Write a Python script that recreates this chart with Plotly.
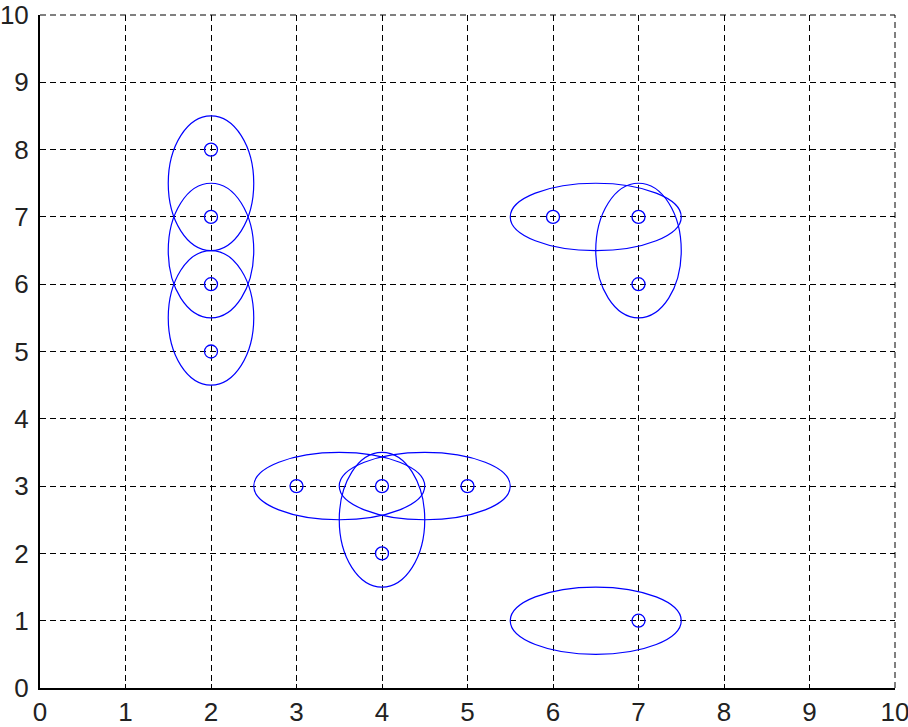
import plotly.graph_objects as go

# data points
point_x = [2, 2, 2, 2, 6, 7, 7, 3, 4, 5, 4, 7]
point_y = [8, 7, 6, 5, 7, 7, 6, 3, 3, 3, 2, 1]

# ellipses: centre and semi-axes
ell_cx = [2, 2, 2, 6.5, 7, 3.5, 4.5, 4, 6.5]
ell_cy = [7.5, 6.5, 5.5, 7, 6.5, 3, 3, 2.5, 1]
ell_rx = [0.5, 0.5, 0.5, 1, 0.5, 1, 1, 0.5, 1]
ell_ry = [1, 1, 1, 0.5, 1, 0.5, 0.5, 1, 0.5]

ticks = list(range(0, 11))

BLUE = '#0000ff'
DASH = '6px,4px'

fig = go.Figure()
fig.add_trace(go.Scatter(
    x=point_x, y=point_y, mode='markers',
    marker=dict(symbol='circle-open', size=13, color=BLUE, line=dict(width=1.3)),
    showlegend=False, hoverinfo='skip'))

for cx, cy, rx, ry in zip(ell_cx, ell_cy, ell_rx, ell_ry):
    fig.add_shape(type='circle', xref='x', yref='y',
                  x0=cx - rx, x1=cx + rx, y0=cy - ry, y1=cy + ry,
                  line=dict(color=BLUE, width=1.2), layer='above')

# plotly drops the grid lines on the far edges, so draw them as the frame
fig.add_shape(type='line', xref='paper', yref='paper', x0=0, x1=1, y0=1, y1=1,
              line=dict(color='black', width=1, dash=DASH), layer='below')
fig.add_shape(type='line', xref='paper', yref='paper', x0=1, x1=1, y0=0, y1=1,
              line=dict(color='black', width=1, dash=DASH), layer='below')

axis_style = dict(
    range=[0, 10], tickvals=ticks, ticktext=[str(t) for t in ticks],
    showgrid=True, gridcolor='black', gridwidth=1, griddash=DASH,
    showline=True, linecolor='black', linewidth=2,
    ticks='inside', ticklen=4, tickcolor='black', tickwidth=1,
    zeroline=False, mirror=False, fixedrange=True, automargin=False,
    ticklabeloverflow='allow',
    tickfont=dict(family='Liberation Sans, Arial, sans-serif', size=26, color='#222222'),
)

fig.update_layout(
    width=908, height=727,
    margin=dict(l=40, r=13, t=15, b=39),
    paper_bgcolor='white', plot_bgcolor='white',
    xaxis=dict(**axis_style, ticklabelstandoff=0),
    yaxis=dict(**axis_style, ticklabelstandoff=4),
)

# drop the page's default 8px body margin so the figure fills the window
fig.write_html("out.html", config={'displayModeBar': False},
               post_script="document.body.style.margin = '0';")
